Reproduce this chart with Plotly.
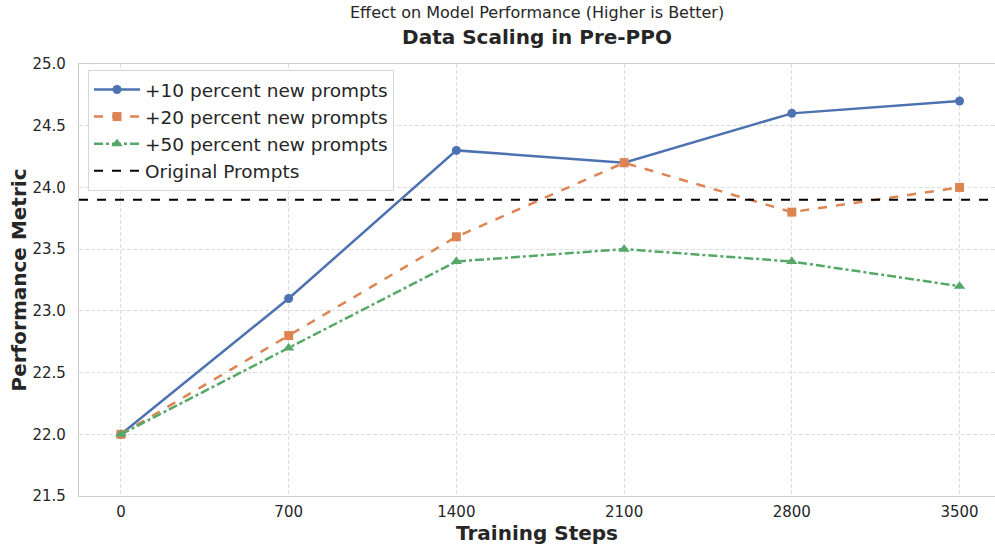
import plotly.graph_objects as go

steps = [0, 700, 1400, 2100, 2800, 3500]
s10 = [22.0, 23.1, 24.3, 24.2, 24.6, 24.7]
s20 = [22.0, 22.8, 23.6, 24.2, 23.8, 24.0]
s50 = [22.0, 22.7, 23.4, 23.5, 23.4, 23.2]
baseline = 23.9
names = ["+10 percent new prompts", "+20 percent new prompts", "+50 percent new prompts", "Original Prompts"]
x_ticks = [0, 700, 1400, 2100, 2800, 3500]
y_ticks = [21.5, 22.0, 22.5, 23.0, 23.5, 24.0, 24.5, 25.0]

FONT = "DejaVu Sans"
TXT = "#262626"
W, H = 995, 546
ML, MT, MB = 79, 64, 50
PH = H - MT - MB

fig = go.Figure()
fig.add_trace(go.Scatter(x=steps, y=s10, name=names[0], mode="lines+markers",
                         line=dict(color="#4C72B0", width=2.5),
                         marker=dict(symbol="circle", size=9, color="#4C72B0")))
fig.add_trace(go.Scatter(x=steps, y=s20, name=names[1], mode="lines+markers",
                         line=dict(color="#DD8452", width=2.5, dash="dash"),
                         marker=dict(symbol="square", size=9, color="#DD8452")))
fig.add_trace(go.Scatter(x=steps, y=s50, name=names[2], mode="lines+markers",
                         line=dict(color="#55A868", width=2.5, dash="dashdot"),
                         marker=dict(symbol="triangle-up", size=10, color="#55A868")))
fig.add_trace(go.Scatter(x=[-175, 3700], y=[baseline, baseline], name=names[3], mode="lines",
                         line=dict(color="black", width=2, dash="dash")))

fig.update_layout(
    width=W, height=H,
    margin=dict(l=ML, r=0, t=MT, b=MB),
    paper_bgcolor="white", plot_bgcolor="white",
    font=dict(family=FONT, color=TXT, size=15),
    title=dict(text="<b>Data Scaling in Pre-PPO</b>", x=0.5, xanchor="center", xref="paper",
               y=1 - 37 / H, yref="container", yanchor="middle",
               font=dict(size=20, family=FONT, color=TXT)),
    showlegend=True,
    legend=dict(x=9 / (W - ML), y=1 - 6 / PH, xanchor="left", yanchor="top",
                bgcolor="rgba(255,255,255,0.85)", bordercolor="#d6d6d6", borderwidth=1,
                itemwidth=46,
                font=dict(size=18.5, family=FONT, color=TXT), tracegroupgap=0),
    xaxis=dict(range=[-175, 3648], tickvals=x_ticks, ticktext=[str(v) for v in x_ticks],
               showgrid=True, gridcolor="#dedede", griddash="4px,2px", gridwidth=1,
               showline=True, linecolor="#cccccc", linewidth=1.2, mirror=True, zeroline=False,
               ticks="", ticklabelstandoff=2, automargin=False,
               tickfont=dict(size=15, family=FONT, color=TXT),
               title=dict(text="<b>Training Steps</b>", font=dict(size=20, family=FONT, color=TXT), standoff=4)),
    yaxis=dict(range=[21.5, 25.0], tickvals=y_ticks, tickformat=".1f",
               showgrid=True, gridcolor="#dedede", griddash="4px,2px", gridwidth=1,
               showline=True, linecolor="#cccccc", linewidth=1.2, mirror=True, zeroline=False,
               ticks="", ticklabelstandoff=9, automargin=False,
               tickfont=dict(size=15, family=FONT, color=TXT),
               title=dict(text="<b>Performance Metric</b>", font=dict(size=20, family=FONT, color=TXT), standoff=0)),
)
fig.add_annotation(text="Effect on Model Performance (Higher is Better)", x=0.5, xref="paper",
                   y=1.0 + (MT - 13) / PH, yref="paper", yanchor="middle", xanchor="center",
                   showarrow=False, font=dict(size=16, family=FONT, color=TXT))
fig.write_html("out.html", config={"displayModeBar": False},
               post_script="document.body.style.margin='0';document.body.style.overflow='hidden';")
